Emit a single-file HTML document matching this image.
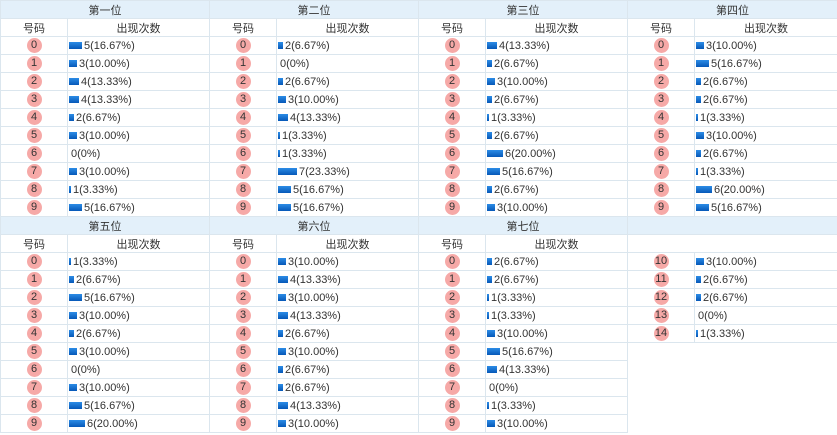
<!DOCTYPE html><html><head><meta charset="utf-8"><style>
body{margin:0;width:837px;height:435px;background:#fff;font-family:"Liberation Sans","Noto Sans CJK SC",sans-serif;font-size:11px;color:#333;overflow:hidden}
table{border-collapse:collapse;table-layout:fixed;width:837px}
td{border:1px solid #dbe6ee;height:17px;padding:0;white-space:nowrap;overflow:hidden}
.h td{background:#e3f0fa;text-align:center}
.s td{text-align:center}
.n{text-align:center}
.n span{display:inline-block;width:15px;height:15px;border-radius:50%;background:#f6a9a7;line-height:15px;text-align:center;font-size:11px;vertical-align:middle}
.v{padding-left:1px}
.v i{display:inline-block;height:7px;background:linear-gradient(#2c8ce6,#0658b8);vertical-align:middle;margin-right:2px}
.e{border:none}
</style></head><body>
<table>
<colgroup><col style="width:67px"><col style="width:142px"><col style="width:67px"><col style="width:142px"><col style="width:67px"><col style="width:142px"><col style="width:67px"><col style="width:143px"></colgroup>
<tr class="h"><td colspan="2">第一位</td><td colspan="2">第二位</td><td colspan="2">第三位</td><td colspan="2">第四位</td></tr>
<tr class="s"><td>号码</td><td>出现次数</td><td>号码</td><td>出现次数</td><td>号码</td><td>出现次数</td><td>号码</td><td>出现次数</td></tr>
<tr><td class="n"><span>0</span></td><td class="v"><i style="width:13px"></i>5(16.67%)</td><td class="n"><span>0</span></td><td class="v"><i style="width:5px"></i>2(6.67%)</td><td class="n"><span>0</span></td><td class="v"><i style="width:10px"></i>4(13.33%)</td><td class="n"><span>0</span></td><td class="v"><i style="width:8px"></i>3(10.00%)</td></tr>
<tr><td class="n"><span>1</span></td><td class="v"><i style="width:8px"></i>3(10.00%)</td><td class="n"><span>1</span></td><td class="v"><i style="width:0"></i>0(0%)</td><td class="n"><span>1</span></td><td class="v"><i style="width:5px"></i>2(6.67%)</td><td class="n"><span>1</span></td><td class="v"><i style="width:13px"></i>5(16.67%)</td></tr>
<tr><td class="n"><span>2</span></td><td class="v"><i style="width:10px"></i>4(13.33%)</td><td class="n"><span>2</span></td><td class="v"><i style="width:5px"></i>2(6.67%)</td><td class="n"><span>2</span></td><td class="v"><i style="width:8px"></i>3(10.00%)</td><td class="n"><span>2</span></td><td class="v"><i style="width:5px"></i>2(6.67%)</td></tr>
<tr><td class="n"><span>3</span></td><td class="v"><i style="width:10px"></i>4(13.33%)</td><td class="n"><span>3</span></td><td class="v"><i style="width:8px"></i>3(10.00%)</td><td class="n"><span>3</span></td><td class="v"><i style="width:5px"></i>2(6.67%)</td><td class="n"><span>3</span></td><td class="v"><i style="width:5px"></i>2(6.67%)</td></tr>
<tr><td class="n"><span>4</span></td><td class="v"><i style="width:5px"></i>2(6.67%)</td><td class="n"><span>4</span></td><td class="v"><i style="width:10px"></i>4(13.33%)</td><td class="n"><span>4</span></td><td class="v"><i style="width:2px"></i>1(3.33%)</td><td class="n"><span>4</span></td><td class="v"><i style="width:2px"></i>1(3.33%)</td></tr>
<tr><td class="n"><span>5</span></td><td class="v"><i style="width:8px"></i>3(10.00%)</td><td class="n"><span>5</span></td><td class="v"><i style="width:2px"></i>1(3.33%)</td><td class="n"><span>5</span></td><td class="v"><i style="width:5px"></i>2(6.67%)</td><td class="n"><span>5</span></td><td class="v"><i style="width:8px"></i>3(10.00%)</td></tr>
<tr><td class="n"><span>6</span></td><td class="v"><i style="width:0"></i>0(0%)</td><td class="n"><span>6</span></td><td class="v"><i style="width:2px"></i>1(3.33%)</td><td class="n"><span>6</span></td><td class="v"><i style="width:16px"></i>6(20.00%)</td><td class="n"><span>6</span></td><td class="v"><i style="width:5px"></i>2(6.67%)</td></tr>
<tr><td class="n"><span>7</span></td><td class="v"><i style="width:8px"></i>3(10.00%)</td><td class="n"><span>7</span></td><td class="v"><i style="width:19px"></i>7(23.33%)</td><td class="n"><span>7</span></td><td class="v"><i style="width:13px"></i>5(16.67%)</td><td class="n"><span>7</span></td><td class="v"><i style="width:2px"></i>1(3.33%)</td></tr>
<tr><td class="n"><span>8</span></td><td class="v"><i style="width:2px"></i>1(3.33%)</td><td class="n"><span>8</span></td><td class="v"><i style="width:13px"></i>5(16.67%)</td><td class="n"><span>8</span></td><td class="v"><i style="width:5px"></i>2(6.67%)</td><td class="n"><span>8</span></td><td class="v"><i style="width:16px"></i>6(20.00%)</td></tr>
<tr><td class="n"><span>9</span></td><td class="v"><i style="width:13px"></i>5(16.67%)</td><td class="n"><span>9</span></td><td class="v"><i style="width:13px"></i>5(16.67%)</td><td class="n"><span>9</span></td><td class="v"><i style="width:8px"></i>3(10.00%)</td><td class="n"><span>9</span></td><td class="v"><i style="width:13px"></i>5(16.67%)</td></tr>
<tr class="h"><td colspan="2">第五位</td><td colspan="2">第六位</td><td colspan="2">第七位</td><td colspan="2"></td></tr>
<tr class="s"><td>号码</td><td>出现次数</td><td>号码</td><td>出现次数</td><td>号码</td><td>出现次数</td><td colspan="2"></td></tr>
<tr><td class="n"><span>0</span></td><td class="v"><i style="width:2px"></i>1(3.33%)</td><td class="n"><span>0</span></td><td class="v"><i style="width:8px"></i>3(10.00%)</td><td class="n"><span>0</span></td><td class="v"><i style="width:5px"></i>2(6.67%)</td><td class="n"><span>10</span></td><td class="v"><i style="width:8px"></i>3(10.00%)</td></tr>
<tr><td class="n"><span>1</span></td><td class="v"><i style="width:5px"></i>2(6.67%)</td><td class="n"><span>1</span></td><td class="v"><i style="width:10px"></i>4(13.33%)</td><td class="n"><span>1</span></td><td class="v"><i style="width:5px"></i>2(6.67%)</td><td class="n"><span>11</span></td><td class="v"><i style="width:5px"></i>2(6.67%)</td></tr>
<tr><td class="n"><span>2</span></td><td class="v"><i style="width:13px"></i>5(16.67%)</td><td class="n"><span>2</span></td><td class="v"><i style="width:8px"></i>3(10.00%)</td><td class="n"><span>2</span></td><td class="v"><i style="width:2px"></i>1(3.33%)</td><td class="n"><span>12</span></td><td class="v"><i style="width:5px"></i>2(6.67%)</td></tr>
<tr><td class="n"><span>3</span></td><td class="v"><i style="width:8px"></i>3(10.00%)</td><td class="n"><span>3</span></td><td class="v"><i style="width:10px"></i>4(13.33%)</td><td class="n"><span>3</span></td><td class="v"><i style="width:2px"></i>1(3.33%)</td><td class="n"><span>13</span></td><td class="v"><i style="width:0"></i>0(0%)</td></tr>
<tr><td class="n"><span>4</span></td><td class="v"><i style="width:5px"></i>2(6.67%)</td><td class="n"><span>4</span></td><td class="v"><i style="width:5px"></i>2(6.67%)</td><td class="n"><span>4</span></td><td class="v"><i style="width:8px"></i>3(10.00%)</td><td class="n"><span>14</span></td><td class="v"><i style="width:2px"></i>1(3.33%)</td></tr>
<tr><td class="n"><span>5</span></td><td class="v"><i style="width:8px"></i>3(10.00%)</td><td class="n"><span>5</span></td><td class="v"><i style="width:8px"></i>3(10.00%)</td><td class="n"><span>5</span></td><td class="v"><i style="width:13px"></i>5(16.67%)</td><td class="e"></td><td class="e"></td></tr>
<tr><td class="n"><span>6</span></td><td class="v"><i style="width:0"></i>0(0%)</td><td class="n"><span>6</span></td><td class="v"><i style="width:5px"></i>2(6.67%)</td><td class="n"><span>6</span></td><td class="v"><i style="width:10px"></i>4(13.33%)</td><td class="e"></td><td class="e"></td></tr>
<tr><td class="n"><span>7</span></td><td class="v"><i style="width:8px"></i>3(10.00%)</td><td class="n"><span>7</span></td><td class="v"><i style="width:5px"></i>2(6.67%)</td><td class="n"><span>7</span></td><td class="v"><i style="width:0"></i>0(0%)</td><td class="e"></td><td class="e"></td></tr>
<tr><td class="n"><span>8</span></td><td class="v"><i style="width:13px"></i>5(16.67%)</td><td class="n"><span>8</span></td><td class="v"><i style="width:10px"></i>4(13.33%)</td><td class="n"><span>8</span></td><td class="v"><i style="width:2px"></i>1(3.33%)</td><td class="e"></td><td class="e"></td></tr>
<tr><td class="n"><span>9</span></td><td class="v"><i style="width:16px"></i>6(20.00%)</td><td class="n"><span>9</span></td><td class="v"><i style="width:8px"></i>3(10.00%)</td><td class="n"><span>9</span></td><td class="v"><i style="width:8px"></i>3(10.00%)</td><td class="e"></td><td class="e"></td></tr>
</table>
</body></html>
